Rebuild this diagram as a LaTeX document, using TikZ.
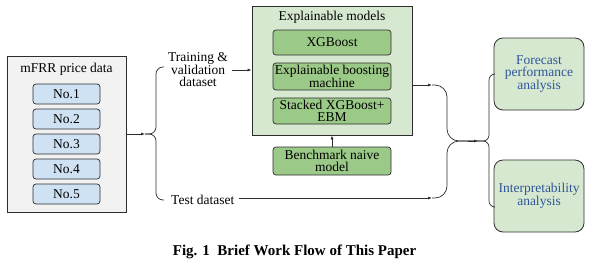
\documentclass[tikz,border=0pt]{standalone}
\usepackage{fontspec}
\setmainfont{Liberation Serif}
\usetikzlibrary{arrows.meta}
\definecolor{boxgray}{RGB}{242,242,242}
\definecolor{nobox}{RGB}{207,226,243}
\definecolor{lightgreen}{RGB}{214,233,208}
\definecolor{midgreen}{RGB}{155,201,135}
\definecolor{textblue}{RGB}{47,85,151}
\definecolor{edge}{RGB}{45,45,45}
\begin{document}
\begin{tikzpicture}[x=1pt,y=-1pt,
  font=\fontsize{13.5}{12.5}\selectfont,
  line/.style={draw=edge, line width=0.7pt},
  tip/.style={line, -{Latex[length=4pt,width=3pt]}},
  outerbox/.style={draw=edge, line width=0.8pt, inner sep=0pt},
  nobx/.style={draw=edge, line width=0.7pt, fill=nobox, rounded corners=3pt, minimum width=67pt, minimum height=20pt, inner sep=0pt},
  grbx/.style={draw=edge, line width=0.7pt, fill=midgreen, rounded corners=3pt, minimum width=118pt, inner sep=0pt, align=center},
  resbx/.style={draw=edge, line width=0.8pt, fill=lightgreen, rounded corners=9pt, minimum width=90pt, minimum height=72pt, inner sep=0pt, align=center, text=textblue},
  lbl/.style={inner sep=0pt, align=center}]
\useasboundingbox (0,0) rectangle (591,266);

% left data box
\node[outerbox, fill=boxgray, minimum width=119pt, minimum height=156pt] (data) at (66.5,134) {};
\node[lbl] (datat) at (66.5,69) {mFRR price data};
\node[nobx] (n1) at (66.5,94) {No.1};
\node[nobx] (n2) at (66.5,119) {No.2};
\node[nobx] (n3) at (66.5,144) {No.3};
\node[nobx] (n4) at (66.5,169) {No.4};
\node[nobx] (n5) at (66.5,194) {No.5};

% labels
\node[lbl] (train) at (198,70) {Training \&\\validation\\dataset};
\node[lbl, anchor=west] (test) at (171,200) {Test dataset};

% explainable models box
\node[outerbox, fill=lightgreen, minimum width=160pt, minimum height=129pt] (exp) at (332,70.5) {};
\node[lbl] (expt) at (332,17) {Explainable models};
\node[grbx, minimum height=25pt] (xgb) at (332,42.5) {XGBoost};
\node[grbx, minimum height=27pt] (ebm) at (332,76.5) {Explainable boosting\\machine};
\node[grbx, minimum height=26pt] (stk) at (332,111) {Stacked XGBoost+\\EBM};
\node[grbx, minimum height=28pt] (bench) at (332,161) {Benchmark naive\\model};

% result boxes
\node[resbx] (fore) at (539,74) {Forecast\\performance\\analysis};
\node[resbx] (interp) at (539,196) {Interpretability\\analysis};

% caption
\node[lbl, font=\fontsize{15}{15}\selectfont\bfseries] (cap) at (294.5,252) {Fig. 1\ \ Brief Work Flow of This Paper};

% left brace
\coordinate (lb) at (145,134);
\coordinate (lbm) at (156,134);
\coordinate (lbt) at (164,67);
\coordinate (lbb) at (164,200);
\draw[tip] (data.east |- lb) -- (lb);
\draw[line, rounded corners=7pt] (lb) -- (lbm) -- (lbm |- lbt) -- (lbt);
\draw[line, rounded corners=7pt] (lb) -- (lbm) -- (lbm |- lbb) -- (lbb);

% to explainable models
\draw[tip] (232,70) -- (exp.west |- 0,70);
\draw[tip] (bench.north) -- (exp.south);

% right merge
\coordinate (ra) at (432,85);
\coordinate (rb) at (432,198);
\coordinate (rv) at (447,141);
\coordinate (rm) at (478,141);
\draw[tip] (exp.east |- ra) -- (ra);
\draw[tip] (test.east) ++(4,-2) coordinate (ts) (ts) -- (rb);
\draw[line, rounded corners=12pt] (ra) -- (rv |- ra) -- (rv) -- (rm);
\draw[line, rounded corners=12pt] (rb) -- (rv |- rb) -- (rv) -- (rm);
\draw[tip] (468,141) -- (rm);

% right split
\coordinate (sv) at (489,141);
\coordinate (st) at (fore.west |- 0,74);
\coordinate (sb) at (interp.west |- 0,207);
\draw[line, rounded corners=6pt] (rm) -- (sv) -- (sv |- st) -- (st);
\draw[line, rounded corners=6pt] (rm) -- (sv) -- (sv |- sb) -- (sb);
\end{tikzpicture}
\end{document}
